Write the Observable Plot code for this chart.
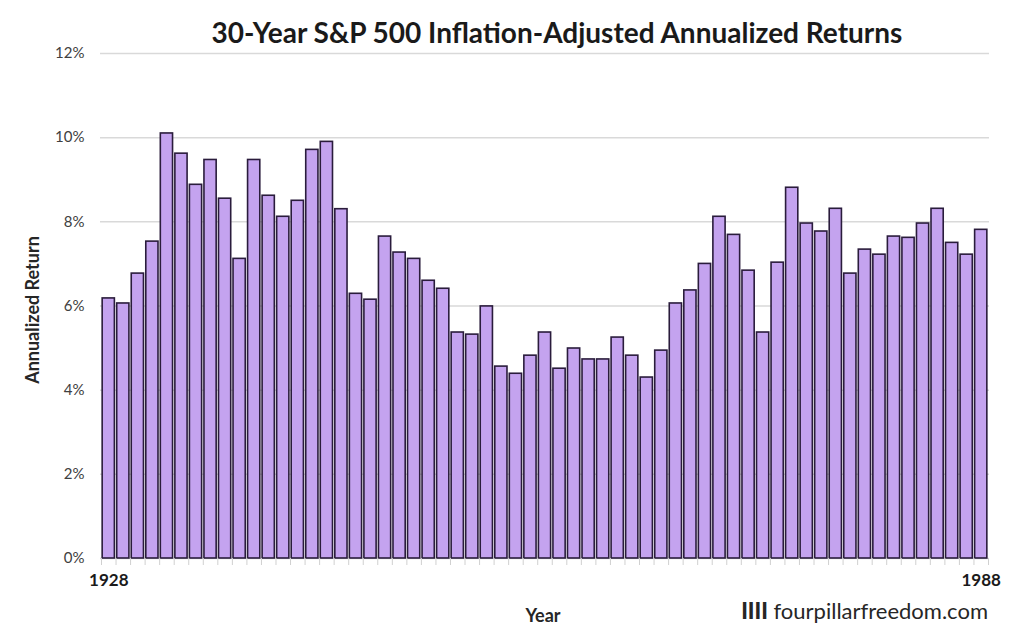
<!DOCTYPE html>
<html>
<head>
<meta charset="utf-8">
<script src="https://cdn.jsdelivr.net/npm/d3@7"></script>
<script src="https://cdn.jsdelivr.net/npm/@observablehq/plot@0.6"></script>
<style>
  html, body { margin: 0; padding: 0; background: #fff; }
  #wrap { position: relative; width: 1024px; height: 640px; font-family: Lato, "Open Sans", sans-serif; }
  #title { position: absolute; left: 557px; top: 15px; transform: translateX(-50%); white-space: nowrap; font-size: 28px; font-weight: bold; color: #1a1a1a; }
  #source { position: absolute; right: 36px; top: 597px; font-size: 22px; color: #262626; white-space: nowrap; }
  #source b { font-weight: 900; }
  #ylabel { position: absolute; left: 32px; top: 310px; transform: translate(-50%, -50%) rotate(-90deg); font-size: 18px; font-weight: bold; color: #262626; white-space: nowrap; }
  #xlabel { position: absolute; left: 543px; top: 604px; transform: translateX(-50%); font-size: 18px; font-weight: bold; color: #262626; }
</style>
</head>
<body>
<div id="wrap">
  <div id="chart"></div>
  <div id="title">30-Year S&amp;P 500 Inflation-Adjusted Annualized Returns</div>
  <div id="ylabel">Annualized Return</div>
  <div id="xlabel">Year</div>
  <div id="source"><b>IIII</b> fourpillarfreedom.com</div>
</div>
<script>
const years = d3.range(1928, 1989);
const returns = [
  6.18, 6.06, 6.77, 7.53, 10.1, 9.62, 8.88, 9.47, 8.55, 7.12,
  9.47, 8.62, 8.12, 8.5, 9.71, 9.9, 8.3, 6.29, 6.15, 7.65,
  7.27, 7.12, 6.6, 6.41, 5.37, 5.32, 5.99, 4.56, 4.39, 4.82,
  5.37, 4.51, 4.99, 4.73, 4.73, 5.25, 4.82, 4.3, 4.94, 6.06,
  6.37, 7.0, 8.12, 7.69, 6.84, 5.37, 7.03, 8.81, 7.96, 7.77,
  8.31, 6.77, 7.34, 7.22, 7.65, 7.62, 7.96, 8.31, 7.5, 7.22,
  7.81
];
const yTicks = [0, 2, 4, 6, 8, 10, 12];
const xLabelTicks = [1928, 1988];

const data = years.map((year, i) => ({year, value: returns[i]}));
const boundaries = d3.range(years[0] - 0.5, years[years.length - 1] + 1, 1);

const chart = Plot.plot({
  width: 1024,
  height: 640,
  marginTop: 53,
  marginBottom: 82,
  marginLeft: 101,
  marginRight: 36,
  style: {fontFamily: "Lato, 'Open Sans', sans-serif", background: "#fff"},
  x: {domain: [years[0] - 0.5, years[years.length - 1] + 0.5]},
  y: {domain: [0, 12]},
  marks: [
    Plot.ruleY(yTicks, {stroke: "#d9d9d9", strokeWidth: 1.5, insetLeft: -1, insetRight: -1}),
    Plot.rectY(data, {
      x1: d => d.year - 0.42,
      x2: d => d.year + 0.42,
      y: "value",
      fill: "#c4a3ef",
      stroke: "#2a1c3c",
      strokeWidth: 1.6
    }),
    Plot.axisY({
      ticks: yTicks,
      tickFormat: d => d + "%",
      tickSize: 0,
      tickPadding: 17,
      fontSize: 15,
      fill: "#404040",
      label: null
    }),
    Plot.axisX({
      ticks: boundaries,
      tickFormat: () => "",
      tickSize: 7,
      stroke: "#d0d0d0",
      label: null
    }),
    Plot.axisX({
      ticks: xLabelTicks,
      tickFormat: d => String(d),
      tickSize: 0,
      tickPadding: 15,
      fontSize: 17,
      fontWeight: "bold",
      fill: "#1a1a1a",
      label: null
    })
  ]
});
document.getElementById("chart").appendChild(chart);
</script>
</body>
</html>
